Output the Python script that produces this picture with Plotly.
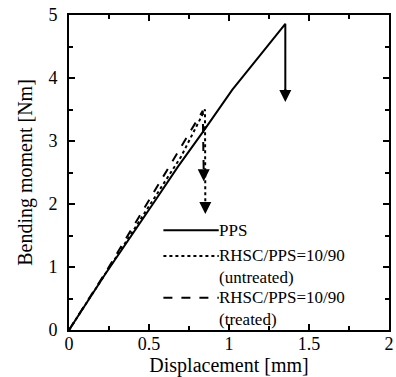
import plotly.graph_objects as go

# Data
pps_x = [0, 0.23, 0.54, 0.68, 0.836, 1.02, 1.2, 1.352, 1.352]
pps_y = [0, 0.90, 2.06, 2.59, 3.14, 3.81, 4.38, 4.86, 3.80]
unt_x = [0, 0.23, 0.52, 0.70, 0.85, 0.852]
unt_y = [0, 0.91, 2.04, 2.75, 3.50, 1.95]
trt_x = [0, 0.23, 0.50, 0.68, 0.836, 0.842]
trt_y = [0, 0.92, 2.06, 2.81, 3.48, 2.50]
# arrow heads (tip x, tip y, tail y)
arrows = [(1.352, 3.62, 3.85), (0.852, 1.84, 2.0), (0.842, 2.36, 2.55)]

legend_names = ["PPS", "RHSC/PPS=10/90<br>(untreated)", "RHSC/PPS=10/90<br>(treated)"]
legend_dash = ["solid", "dot", "dash"]

FONT = "Liberation Serif, Times New Roman, DejaVu Serif, serif"
fig = go.Figure()
fig.add_trace(go.Scatter(x=pps_x, y=pps_y, mode="lines", line=dict(color="black", width=2, dash="solid"), showlegend=False))
fig.add_trace(go.Scatter(x=unt_x, y=unt_y, mode="lines", line=dict(color="black", width=2, dash="dot"), showlegend=False))
fig.add_trace(go.Scatter(x=trt_x, y=trt_y, mode="lines", line=dict(color="black", width=2, dash="dash"), showlegend=False))

for (ax_, tip, tail) in arrows:
    fig.add_annotation(x=ax_, y=tip, ax=ax_, ay=tail, xref="x", yref="y", axref="x", ayref="y",
                       showarrow=True, arrowhead=2, arrowsize=1.2, arrowwidth=2, arrowcolor="black",
                       standoff=0, text="")

# manual legend
leg_y = [0.317, 0.235, 0.102]
for name, dash, ly in zip(legend_names, legend_dash, leg_y):
    fig.add_shape(type="line", xref="paper", yref="paper", x0=0.295, x1=0.468, y0=ly, y1=ly,
                  line=dict(color="black", width=2, dash=dash))
    fig.add_annotation(xref="paper", yref="paper", x=0.462, y=ly, xanchor="left", yanchor="top",
                       yshift=11.5, text=name, showarrow=False, align="left",
                       font=dict(family=FONT, size=17, color="black"))

axis_common = dict(showline=True, linecolor="black", linewidth=2, mirror="allticks",
                   ticks="inside", ticklen=6, tickwidth=1.5, tickcolor="black",
                   showgrid=False, zeroline=False,
                   tickfont=dict(family=FONT, size=18, color="black"))
fig.update_xaxes(range=[0, 2], tickvals=[0, 0.5, 1, 1.5, 2], ticktext=["0", "0.5", "1", "1.5", "2"],
                 ticklabeloverflow="allow", ticklabelstandoff=-4,
                 minor=dict(dtick=0.25, ticks="inside", ticklen=4, tickcolor="black", showgrid=False),
                 title=dict(text="Displacement [mm]", font=dict(family=FONT, size=20, color="black"), standoff=4),
                 **axis_common)
fig.update_yaxes(range=[0, 5], dtick=1, ticklabelstandoff=6,
                 minor=dict(dtick=0.5, ticks="inside", ticklen=4, tickcolor="black", showgrid=False),
                 title=dict(text="Bending moment [Nm]", font=dict(family=FONT, size=20, color="black"), standoff=10),
                 **axis_common)
fig.update_layout(width=396, height=377, margin=dict(l=69, r=2, t=15, b=47),
                  plot_bgcolor="white", paper_bgcolor="white", showlegend=False)
fig.write_html("out.html")
